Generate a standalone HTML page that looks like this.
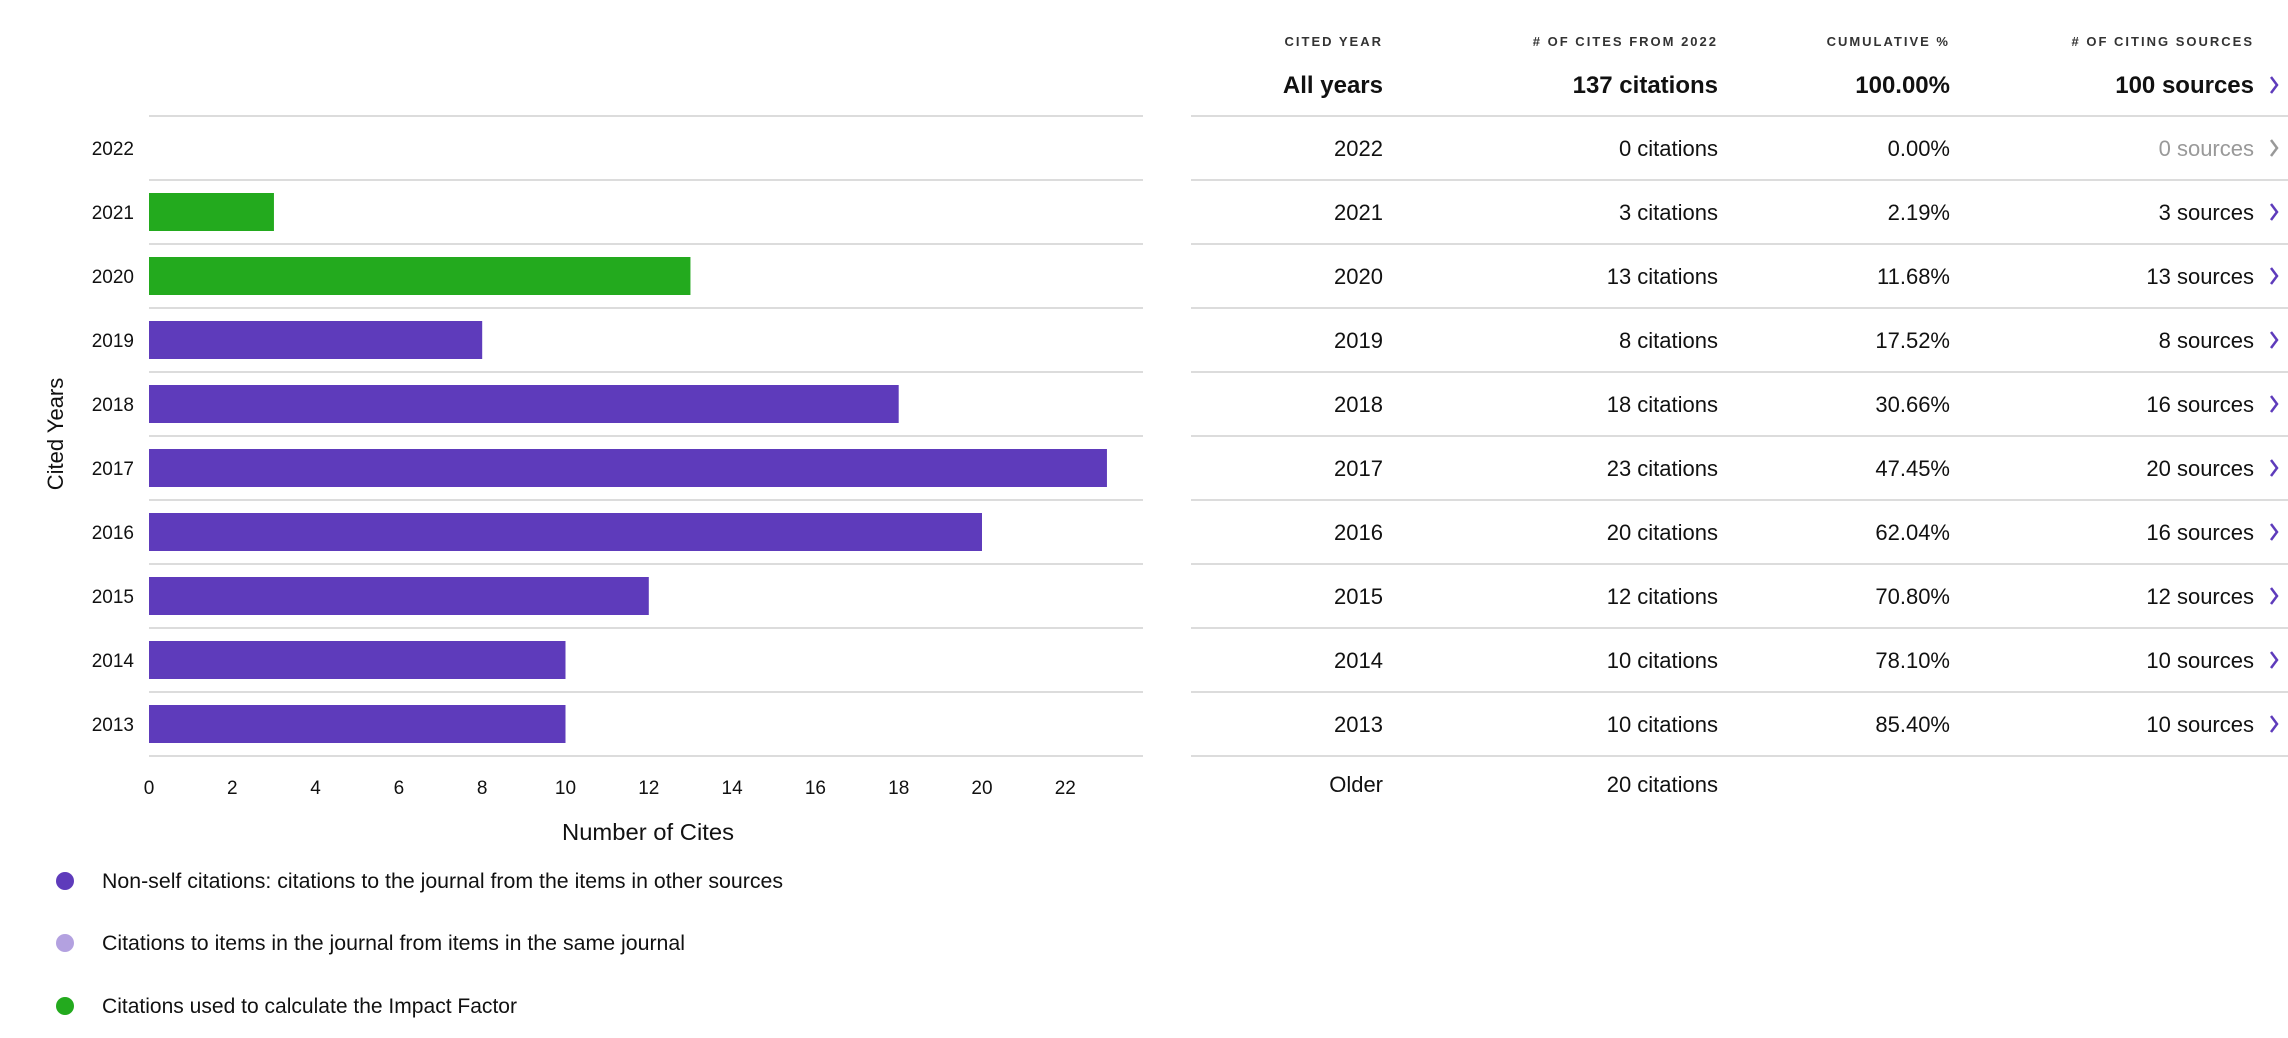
<!DOCTYPE html>
<html><head><meta charset="utf-8"><style>
html,body{margin:0;padding:0;background:#fff;}
svg{display:block;font-family:"Liberation Sans",sans-serif;}
</style></head><body>
<svg id="chart" width="2288" height="1038" viewBox="0 0 2288 1038" xmlns="http://www.w3.org/2000/svg">
<g id="grid"></g>
<g id="bars"></g>
<g id="ylabels"></g>
<g id="xticks"></g>
<text x="648" y="840" font-size="23" text-anchor="middle" fill="#111" textLength="172" lengthAdjust="spacingAndGlyphs">Number of Cites</text>
<text transform="translate(63,434) rotate(-90)" font-size="22" text-anchor="middle" fill="#111">Cited Years</text>
<g>
<g><circle cx="65" cy="881" r="9" fill="#5e3bbb"/><text x="102" y="888" font-size="21" fill="#111" textLength="681" lengthAdjust="spacingAndGlyphs">Non-self citations: citations to the journal from the items in other sources</text></g>
<g><circle cx="65" cy="943" r="9" fill="#b3a1e0"/><text x="102" y="950" font-size="21" fill="#111" textLength="583" lengthAdjust="spacingAndGlyphs">Citations to items in the journal from items in the same journal</text></g>
<g><circle cx="65" cy="1006" r="9" fill="#23aa1e"/><text x="102" y="1013" font-size="21" fill="#111" textLength="415" lengthAdjust="spacingAndGlyphs">Citations used to calculate the Impact Factor</text></g>
</g>
<g id="table"></g>
</svg>
<script>
const years = ["2022","2021","2020","2019","2018","2017","2016","2015","2014","2013"];
const cites = [0,3,13,8,18,23,20,12,10,10];
const impactFactor = [false,true,true,false,false,false,false,false,false,false];
const xTicks = [0,2,4,6,8,10,12,14,16,18,20,22];
const cumulative = ["0.00%","2.19%","11.68%","17.52%","30.66%","47.45%","62.04%","70.80%","78.10%","85.40%"];
const sources = [0,3,13,8,16,20,16,12,10,10];
const totalCites = 137, totalSources = 100, olderCites = 20;

const NS="http://www.w3.org/2000/svg";
const plotLeft=149, unitW=41.65, plotTop=116, rowH=64;
const xs=v=>plotLeft+v*unitW;
const yRow=i=>plotTop+i*rowH;
function mk(tag,attrs,parent,txt){const e=document.createElementNS(NS,tag);for(const k in attrs)e.setAttribute(k,attrs[k]);if(txt!==undefined)e.textContent=txt;parent.appendChild(e);return e;}
const grid=document.getElementById('grid'),bars=document.getElementById('bars'),yl=document.getElementById('ylabels'),xt=document.getElementById('xticks'),tb=document.getElementById('table');
for(let i=0;i<=years.length;i++){
  const l=mk('line',{x1:plotLeft,x2:1143,y1:yRow(i),y2:yRow(i),stroke:'#dcdcdc','stroke-width':2},grid);
  
  
  const t=mk('line',{x1:1191,x2:2288,y1:yRow(i),y2:yRow(i),stroke:'#dcdcdc','stroke-width':2},tb);
  
  
}
years.forEach((y,i)=>{
  const cy=yRow(i)+rowH/2;
  const lab=mk('text',{x:134,y:cy+7,'font-size':19,'text-anchor':'end',fill:'#111'},yl,y);
  
  
  if(cites[i]>0){
    const b=mk('rect',{x:xs(0),y:cy-19,width:xs(cites[i])-xs(0),height:38,fill:impactFactor[i]?'#23aa1e':'#5e3bbb'},bars);
    
    
  }
});
xTicks.forEach(v=>{
  const t=mk('text',{x:xs(v),y:794,'font-size':19,'text-anchor':'middle',fill:'#111'},xt,String(v));
  
  
});
const cols=[1383,1718,1950,2254];
const heads=["CITED YEAR","# OF CITES FROM 2022","CUMULATIVE %","# OF CITING SOURCES"];
heads.forEach((h,i)=>{
  const t=mk('text',{x:cols[i],y:46,'font-size':13,'font-weight':'bold','letter-spacing':2,'text-anchor':'end',fill:'#333'},tb,h);
  
  
});
function chev(y,color){
  const p=mk('path',{d:`M2271 ${y-8} L2277 ${y} L2271 ${y+8}`,fill:'none',stroke:color,'stroke-width':2.5},tb);
  
  
}
function row(cy,vals,bold,colors){
  vals.forEach((v,i)=>{ if(v===null)return;
    const t=mk('text',{x:cols[i],y:cy+8,'font-size':bold?24:22,'font-weight':bold?'bold':'normal','text-anchor':'end',fill:colors&&colors[i]||'#111'},tb,v);
    
    
  });
}
row(85,["All years",totalCites+" citations","100.00%",totalSources+" sources"],true);
chev(85,'#5e3bbb');
years.forEach((y,i)=>{
  const cy=yRow(i)+rowH/2;
  const gray=sources[i]===0;
  row(cy,[y,cites[i]+" citations",cumulative[i],sources[i]+" sources"],false,[null,null,null,gray?'#999':'#111']);
  chev(cy,gray?'#999':'#5e3bbb');
});
row(yRow(years.length)+rowH/2-4,["Older",olderCites+" citations",null,null],false);
</script>
</body></html>
